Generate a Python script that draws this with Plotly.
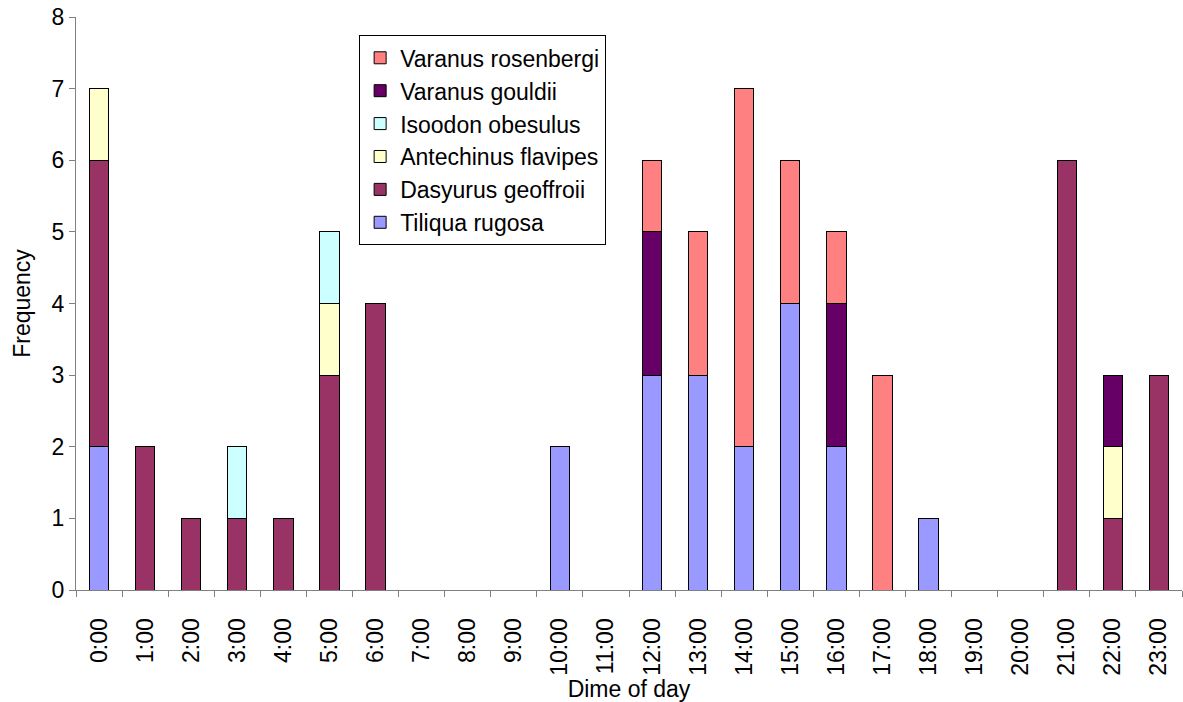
import plotly.graph_objects as go

hours = [f"{h}:00" for h in range(24)]

tiliqua_rugosa      = [2,0,0,0,0,0,0,0,0,0,2,0,3,3,2,4,2,0,1,0,0,0,0,0]
dasyurus_geoffroii  = [4,2,1,1,1,3,4,0,0,0,0,0,0,0,0,0,0,0,0,0,0,6,1,3]
antechinus_flavipes = [1,0,0,0,0,1,0,0,0,0,0,0,0,0,0,0,0,0,0,0,0,0,1,0]
isoodon_obesulus    = [0,0,0,1,0,1,0,0,0,0,0,0,0,0,0,0,0,0,0,0,0,0,0,0]
varanus_gouldii     = [0,0,0,0,0,0,0,0,0,0,0,0,2,0,0,0,2,0,0,0,0,0,1,0]
varanus_rosenbergi  = [0,0,0,0,0,0,0,0,0,0,0,0,1,2,5,2,1,3,0,0,0,0,0,0]

series = [
    ("Tiliqua rugosa", tiliqua_rugosa, "#9999FF"),
    ("Dasyurus geoffroii", dasyurus_geoffroii, "#993366"),
    ("Antechinus flavipes", antechinus_flavipes, "#FFFFCC"),
    ("Isoodon obesulus", isoodon_obesulus, "#CCFFFF"),
    ("Varanus gouldii", varanus_gouldii, "#660066"),
    ("Varanus rosenbergi", varanus_rosenbergi, "#FF8080"),
]

FONT = "Liberation Sans, Arial, sans-serif"
FS = 23

fig = go.Figure()
n = len(series)
for i, (name, vals, color) in enumerate(series):
    fig.add_trace(go.Bar(
        x=hours, y=[v if v else None for v in vals], name=name, legendgroup=name,
        legendrank=n - i,
        marker=dict(color=color, line=dict(color="black", width=1)),
        width=0.42,
    ))

fig.update_layout(
    barmode="stack",
    width=1183, height=702,
    margin=dict(l=76, r=1, t=17, b=112),
    plot_bgcolor="white", paper_bgcolor="white",
    font=dict(family=FONT, size=FS, color="black"),
    showlegend=True,
    legend=dict(
        x=0.256, y=0.968, xanchor="left", yanchor="top",
        traceorder="grouped", tracegroupgap=0,
        bordercolor="black", borderwidth=1, bgcolor="white",
        font=dict(family=FONT, size=FS, color="black"),
        itemwidth=30,
    ),
    xaxis=dict(
        type="category", range=[-0.5, 23.5],
        showline=True, linecolor="#808080", linewidth=1.2,
        ticks="outside", tickson="boundaries", ticklen=6, tickcolor="#808080",
        tickangle=-90, tickfont=dict(family=FONT, size=FS),
        ticklabelstandoff=18,
        title=dict(text="Dime of day", font=dict(family=FONT, size=FS), standoff=5),
        showgrid=False, zeroline=False,
    ),
    yaxis=dict(
        range=[0, 8], dtick=1,
        showline=True, linecolor="#808080", linewidth=1.2,
        ticks="outside", ticklen=6, tickcolor="#808080",
        tickfont=dict(family=FONT, size=FS),
        title=dict(text="Frequency", font=dict(family=FONT, size=FS), standoff=14),
        showgrid=False, zeroline=False,
    ),
)

fig.write_html("out.html")
